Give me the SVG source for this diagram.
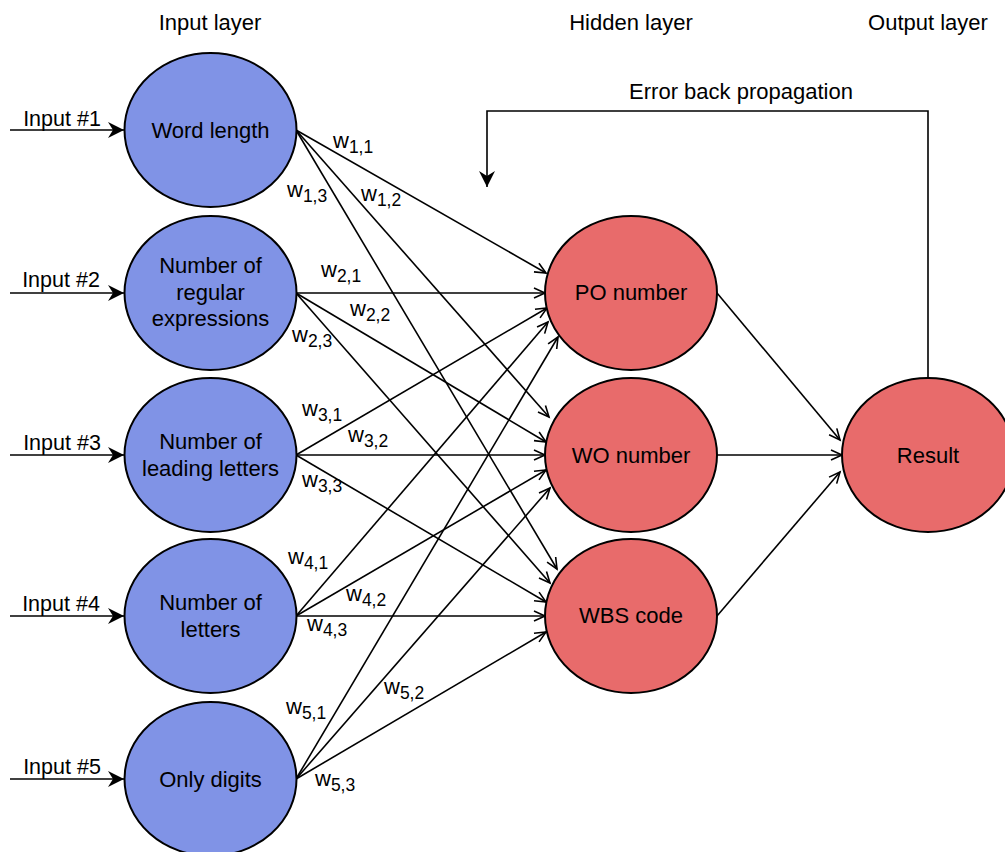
<svg xmlns="http://www.w3.org/2000/svg" width="1005" height="852" viewBox="0 0 1005 852">
<style>
text{font-family:"Liberation Sans",Arial,sans-serif;fill:#000}
.lbl{font-size:22px;text-anchor:middle}
.inl{font-size:21.5px;text-anchor:middle}
.w{font-size:22px}
.sub{font-size:17.5px}
.in{fill:#8093E6;stroke:#000;stroke-width:2}
.hid{fill:#E86B6B;stroke:#000;stroke-width:2}
.c{stroke:#000;stroke-width:1.6;fill:none}
</style>
<defs>
<marker id="open" markerUnits="userSpaceOnUse" markerWidth="14" markerHeight="12" refX="12" refY="6" orient="auto" overflow="visible">
<path d="M1,1 L12,6 L1,11" fill="none" stroke="#000" stroke-width="1.6"/>
</marker>
<marker id="classic" markerUnits="userSpaceOnUse" markerWidth="17" markerHeight="16" refX="16" refY="8" orient="auto" overflow="visible">
<path d="M0,0 L16,8 L0,16 L5,8 z" fill="#000"/>
</marker>
</defs>

<g id="layer-labels">
<text class="lbl" x="210" y="30">Input layer</text>
<text class="lbl" x="631" y="30">Hidden layer</text>
<text class="lbl" x="928" y="30">Output layer</text>
<text class="lbl" x="741" y="99">Error back propagation</text>
</g>

<g id="connectors">
<path class="c" d="M10,130 H124" marker-end="url(#classic)"/>
<path class="c" d="M10,293 H124" marker-end="url(#classic)"/>
<path class="c" d="M10,455 H124" marker-end="url(#classic)"/>
<path class="c" d="M10,616 H124" marker-end="url(#classic)"/>
<path class="c" d="M10,779 H124" marker-end="url(#classic)"/>

<path class="c" d="M296,130 L546,273" marker-end="url(#open)"/>
<path class="c" d="M296,130 L549,417" marker-end="url(#open)"/>
<path class="c" d="M296,130 L557,569" marker-end="url(#open)"/>
<path class="c" d="M296,293 L545,293" marker-end="url(#open)"/>
<path class="c" d="M296,293 L546,442" marker-end="url(#open)"/>
<path class="c" d="M296,293 L550,583" marker-end="url(#open)"/>
<path class="c" d="M296,455 L547,308" marker-end="url(#open)"/>
<path class="c" d="M296,455 L545,455" marker-end="url(#open)"/>
<path class="c" d="M296,455 L546,602" marker-end="url(#open)"/>
<path class="c" d="M296,616 L548,322" marker-end="url(#open)"/>
<path class="c" d="M296,616 L546,470" marker-end="url(#open)"/>
<path class="c" d="M296,616 L545,616" marker-end="url(#open)"/>
<path class="c" d="M296,779 L558,337" marker-end="url(#open)"/>
<path class="c" d="M296,779 L550,488" marker-end="url(#open)"/>
<path class="c" d="M296,779 L546,632" marker-end="url(#open)"/>

<path class="c" d="M717,293 L840,440" marker-end="url(#open)"/>
<path class="c" d="M717,455 L842,455" marker-end="url(#open)"/>
<path class="c" d="M717,616 L840,472" marker-end="url(#open)"/>

<path class="c" d="M928,378 V111 H487 V187" marker-end="url(#classic)"/>
</g>

<g id="input-labels">
<text class="inl" x="62" y="126">Input #1</text>
<text class="inl" x="61" y="287">Input #2</text>
<text class="inl" x="62" y="450">Input #3</text>
<text class="inl" x="61" y="611">Input #4</text>
<text class="inl" x="62" y="774">Input #5</text>
</g>

<g id="weights">
<text class="w" x="333" y="148">w<tspan class="sub" dy="5">1,1</tspan></text>
<text class="w" x="287" y="197">w<tspan class="sub" dy="5">1,3</tspan></text>
<text class="w" x="361" y="201">w<tspan class="sub" dy="5">1,2</tspan></text>
<text class="w" x="321" y="277">w<tspan class="sub" dy="5">2,1</tspan></text>
<text class="w" x="350" y="316">w<tspan class="sub" dy="5">2,2</tspan></text>
<text class="w" x="292" y="342">w<tspan class="sub" dy="5">2,3</tspan></text>
<text class="w" x="302" y="416">w<tspan class="sub" dy="5">3,1</tspan></text>
<text class="w" x="348" y="442">w<tspan class="sub" dy="5">3,2</tspan></text>
<text class="w" x="302" y="487">w<tspan class="sub" dy="5">3,3</tspan></text>
<text class="w" x="288" y="564">w<tspan class="sub" dy="5">4,1</tspan></text>
<text class="w" x="346" y="601">w<tspan class="sub" dy="5">4,2</tspan></text>
<text class="w" x="307" y="631">w<tspan class="sub" dy="5">4,3</tspan></text>
<text class="w" x="286" y="714">w<tspan class="sub" dy="5">5,1</tspan></text>
<text class="w" x="384" y="694">w<tspan class="sub" dy="5">5,2</tspan></text>
<text class="w" x="315" y="786">w<tspan class="sub" dy="5">5,3</tspan></text>
</g>

<g id="node-word-length">
<ellipse class="in" cx="210.5" cy="130" rx="86" ry="77"/>
<text class="lbl" x="210.5" y="138">Word length</text>
</g>
<g id="node-regex">
<ellipse class="in" cx="210.5" cy="293" rx="86" ry="77"/>
<text class="lbl" x="210.5" y="273">Number of</text>
<text class="lbl" x="210.5" y="300">regular</text>
<text class="lbl" x="210.5" y="326">expressions</text>
</g>
<g id="node-leading">
<ellipse class="in" cx="210.5" cy="455" rx="86" ry="77"/>
<text class="lbl" x="210.5" y="449">Number of</text>
<text class="lbl" x="210.5" y="476">leading letters</text>
</g>
<g id="node-letters">
<ellipse class="in" cx="210.5" cy="616" rx="86" ry="77"/>
<text class="lbl" x="210.5" y="610">Number of</text>
<text class="lbl" x="210.5" y="637">letters</text>
</g>
<g id="node-digits">
<ellipse class="in" cx="210.5" cy="779" rx="86" ry="77"/>
<text class="lbl" x="210.5" y="787">Only digits</text>
</g>

<g id="node-po">
<ellipse class="hid" cx="631" cy="293" rx="86" ry="77"/>
<text class="lbl" x="631" y="300">PO number</text>
</g>
<g id="node-wo">
<ellipse class="hid" cx="631" cy="455" rx="86" ry="77"/>
<text class="lbl" x="631" y="463">WO number</text>
</g>
<g id="node-wbs">
<ellipse class="hid" cx="631" cy="616" rx="86" ry="77"/>
<text class="lbl" x="631" y="623">WBS code</text>
</g>
<g id="node-result">
<ellipse class="hid" cx="928" cy="455" rx="86" ry="77"/>
<text class="lbl" x="928" y="463">Result</text>
</g>
</svg>
